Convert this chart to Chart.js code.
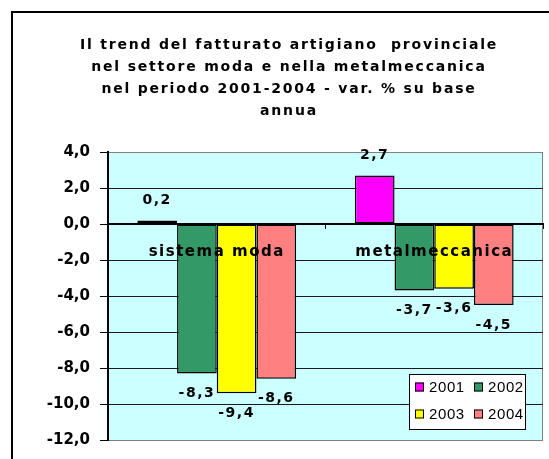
<!DOCTYPE html>
<html>
<head>
<meta charset="utf-8">
<script src="https://cdn.jsdelivr.net/npm/chart.js@4.4.1/dist/chart.umd.min.js"></script>
<style>
    html, body { margin: 0; padding: 0; background: #ffffff; }
    #box { width: 549px; height: 459px; }
</style>
</head>
<body>
<div id="box"><canvas id="fatturatoChart" width="549" height="459"></canvas></div>
<script>
var titleLines = ["Il trend del fatturato artigiano  provinciale", "nel settore moda e nella metalmeccanica", "nel periodo 2001-2004 - var. % su base", "annua"];
var categories = ["sistema moda", "metalmeccanica"];
var years = ["2001", "2002", "2003", "2004"];
var values2001 = [0.2, 2.7];
var values2002 = [-8.3, -3.7];
var values2003 = [-9.4, -3.6];
var values2004 = [-8.6, -4.5];
var yTicks = [4, 2, 0, -2, -4, -6, -8, -10, -12];

var barColors = ["#ff00ff", "#339966", "#ffff00", "#ff8080"];

function formatComma(v)
{
    return v.toFixed(1).replace(".", ",");
}

// frame, plot background and title
var backgroundPlugin = {
    id: "background",
    beforeDraw: function (chart) {
        var ctx = chart.ctx;
        var area = chart.chartArea;
        ctx.save();
        ctx.fillStyle = "#ffffff";
        ctx.fillRect(0, 0, chart.width, chart.height);
        ctx.fillStyle = "#ccffff";
        ctx.fillRect(area.left, area.top, area.right - area.left, area.bottom - area.top);
        ctx.strokeStyle = "#000000";
        ctx.lineWidth = 2;
        ctx.beginPath();
        ctx.moveTo(12, chart.height);
        ctx.lineTo(12, 12);
        ctx.lineTo(chart.width, 12);
        ctx.stroke();
        ctx.strokeStyle = "#808080";
        ctx.lineWidth = 1;
        ctx.beginPath();
        ctx.moveTo(area.right - 0.5, area.top);
        ctx.lineTo(area.right - 0.5, area.bottom);
        ctx.stroke();

        ctx.fillStyle = "#000000";
        ctx.font = "bold 14px 'DejaVu Sans'";
        ctx.letterSpacing = "1.8px";
        ctx.textAlign = "center";
        ctx.textBaseline = "middle";
        for (var i = 0; i < titleLines.length; i++)
        {
            ctx.fillText(titleLines[i], 289, 45 + i * 22);
        }
        ctx.letterSpacing = "0px";
        ctx.restore();
    }
};

// value labels above / below the bars
var valueLabelPlugin = {
    id: "valueLabels",
    afterDatasetsDraw: function (chart) {
        var ctx = chart.ctx;
        ctx.save();
        ctx.fillStyle = "#000000";
        ctx.font = "bold 14px 'DejaVu Sans'";
        ctx.letterSpacing = "1.5px";
        ctx.textAlign = "center";
        ctx.textBaseline = "middle";
        chart.data.datasets.forEach(function (dataset, d) {
            var meta = chart.getDatasetMeta(d);
            meta.data.forEach(function (bar, i) {
                var v = dataset.data[i];
                var y = v >= 0 ? bar.y - 20 : bar.y + 20;
                ctx.fillText(formatComma(v), bar.x, y);
            });
        });
        ctx.restore();
        // the category labels (x ticks, z 1) come next, spread them a bit too
        ctx.letterSpacing = "1.5px";
    },
    afterDraw: function (chart) {
        chart.ctx.letterSpacing = "0px";
    }
};

// legend box inside the plot area
var legendBoxPlugin = {
    id: "legendBox",
    afterDraw: function (chart) {
        var ctx = chart.ctx;
        var left = 409, top = 374, w = 117, h = 56;
        ctx.save();
        ctx.letterSpacing = "0.6px";
        ctx.fillStyle = "#ffffff";
        ctx.fillRect(left, top, w, h);
        ctx.strokeStyle = "#000000";
        ctx.lineWidth = 1;
        ctx.strokeRect(left + 0.5, top + 0.5, w - 1, h - 1);
        ctx.beginPath();
        ctx.rect(left, top, w - 1, h);
        ctx.clip();
        ctx.font = "15px 'Liberation Sans'";
        ctx.textAlign = "left";
        ctx.textBaseline = "middle";
        chart.data.datasets.forEach(function (dataset, d) {
            var col = d % 2;
            var row = Math.floor(d / 2);
            var sx = left + 6 + col * 59;
            var sy = top + 13 + row * 27;
            ctx.fillStyle = dataset.backgroundColor;
            ctx.fillRect(sx, sy - 4.5, 9, 9);
            ctx.strokeStyle = "#000000";
            ctx.strokeRect(sx + 0.5, sy - 4, 8, 8);
            ctx.fillStyle = "#000000";
            ctx.fillText(dataset.label, sx + 14, sy + 1);
        });
        ctx.restore();
    }
};

function makeFatturatoChart()
{
    var series = [values2001, values2002, values2003, values2004];
    var datasets = [];
    for (var i = 0; i < years.length; i++)
    {
        datasets.push({
            label: years[i],
            data: series[i],
            backgroundColor: barColors[i],
            borderColor: "#000000",
            borderWidth: 1.5,
            borderSkipped: false,
            categoryPercentage: 0.73,
            barPercentage: 1.0
        });
    }

    var chartElement = document.getElementById("fatturatoChart");
    var chart = new Chart(chartElement, {
        type: "bar",
        data: {
            labels: categories,
            datasets: datasets
        },
        options: {
            responsive: false,
            animation: false,
            layout: {
                padding: { left: 10, right: 6, top: 152, bottom: 16 }
            },
            plugins: {
                legend: { display: false },
                title: { display: false },
                tooltip: { enabled: false }
            },
            scales: {
                x: {
                    position: { y: 0 },
                    offset: true,
                    grid: {
                        drawOnChartArea: false,
                        drawTicks: true,
                        tickLength: 4,
                        tickColor: "#000000"
                    },
                    border: { color: "#000000", width: 2 },
                    ticks: {
                        z: 1,
                        padding: 15,
                        color: "#000000",
                        font: { family: "DejaVu Sans", size: 15, weight: "bold" }
                    }
                },
                y: {
                    min: -12,
                    max: 4,
                    afterFit: function (scale) {
                        scale.width = 98;
                    },
                    afterBuildTicks: function (scale) {
                        scale.ticks = yTicks.map(function (v) { return { value: v }; });
                    },
                    grid: {
                        color: function (c) {
                            if (c.tick && (c.tick.value == 4 || c.tick.value == -12))
                            {
                                return "#808080";
                            }
                            return "#1a1a1a";
                        },
                        lineWidth: 1,
                        tickLength: 8,
                        tickColor: "#000000"
                    },
                    border: { color: "#000000", width: 2 },
                    ticks: {
                        padding: 10,
                        color: "#000000",
                        font: { family: "DejaVu Sans", size: 15, weight: "bold" },
                        callback: function (value) {
                            return formatComma(value);
                        }
                    }
                }
            }
        },
        plugins: [backgroundPlugin, valueLabelPlugin, legendBoxPlugin]
    });
    return chart;
}

var fatturatoChart = makeFatturatoChart();
</script>
</body>
</html>
